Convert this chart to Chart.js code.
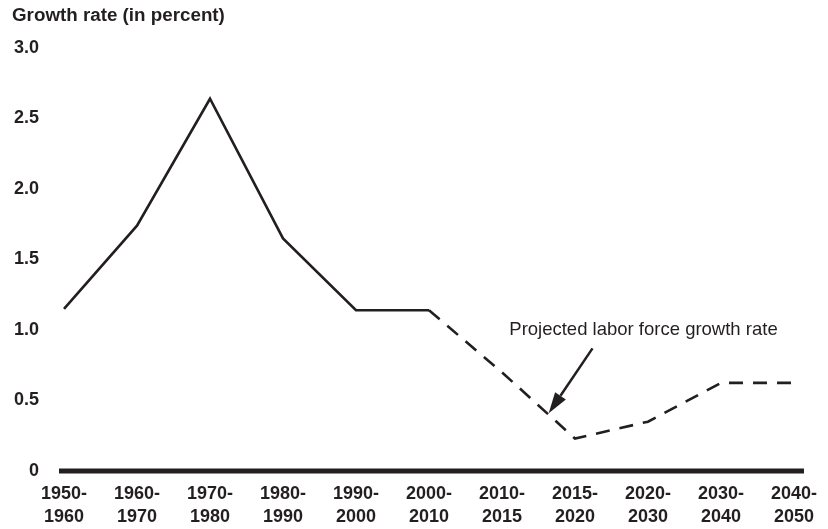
<!DOCTYPE html>
<html>
<head>
<meta charset="utf-8">
<script src="https://cdn.jsdelivr.net/npm/chart.js@4"></script>
<style>
  html, body { margin: 0; padding: 0; background: #fff; }
  #wrap { width: 828px; height: 529px; }
</style>
</head>
<body>
<div id="wrap"><canvas id="laborChart"></canvas></div>
<script>
// periods on the x axis (two-line labels)
const periods = [
  ['1950-', '1960'], ['1960-', '1970'], ['1970-', '1980'], ['1980-', '1990'],
  ['1990-', '2000'], ['2000-', '2010'], ['2010-', '2015'], ['2015-', '2020'],
  ['2020-', '2030'], ['2030-', '2040'], ['2040-', '2050']
];
// growth rate in percent
const growthRate = [1.15, 1.74, 2.64, 1.65, 1.14, 1.14, 0.70, 0.23, 0.35, 0.625, 0.625];
// index from which the series is a projection (dashed)
const projectedFrom = 5;

const yTicks = [0, 0.5, 1.0, 1.5, 2.0, 2.5, 3.0];
const yTitle = 'Growth rate (in percent)';
const noteText = 'Projected labor force growth rate';
// note + arrow anchors in data units (category index, value)
const noteAt = [6.1, 1.0];
const arrowTail = [7.24, 0.87];
const arrowTip = [6.64, 0.41];

const ink = '#231f20';
const fontFam = '"Liberation Sans", Arial, Helvetica, sans-serif';

// title, thick zero line, note and arrow
const extras = {
  id: 'extras',
  beforeDatasetsDraw(chart) {
    const { ctx, chartArea, scales } = chart;
    const y0 = scales.y.getPixelForValue(0);
    ctx.save();
    ctx.strokeStyle = ink;
    ctx.lineWidth = 5;
    ctx.beginPath();
    ctx.moveTo(chartArea.left - 5, y0);
    ctx.lineTo(chartArea.right + 10, y0);
    ctx.stroke();
    ctx.restore();
  },
  afterDraw(chart) {
    const { ctx, scales } = chart;
    const x = scales.x, y = scales.y;
    ctx.save();
    ctx.fillStyle = ink;
    ctx.textBaseline = 'middle';
    ctx.textAlign = 'left';
    ctx.font = 'bold 18.8px ' + fontFam;
    ctx.fillText(yTitle, 12, 16);

    ctx.font = '18.5px ' + fontFam;
    ctx.fillText(noteText, x.getPixelForValue(noteAt[0]), y.getPixelForValue(noteAt[1]));

    // arrow
    const tx = x.getPixelForValue(arrowTail[0]), ty = y.getPixelForValue(arrowTail[1]);
    const hx = x.getPixelForValue(arrowTip[0]), hy = y.getPixelForValue(arrowTip[1]);
    const ang = Math.atan2(hy - ty, hx - tx);
    const headLen = 21, headW = 6.5;
    const bx = hx - headLen * Math.cos(ang), by = hy - headLen * Math.sin(ang);
    ctx.strokeStyle = ink;
    ctx.lineWidth = 2.5;
    ctx.beginPath();
    ctx.moveTo(tx, ty);
    ctx.lineTo(bx, by);
    ctx.stroke();
    ctx.beginPath();
    ctx.moveTo(hx, hy);
    ctx.lineTo(bx + headW * Math.sin(ang), by - headW * Math.cos(ang));
    ctx.lineTo(bx - headW * Math.sin(ang), by + headW * Math.cos(ang));
    ctx.closePath();
    ctx.fill();
    ctx.restore();
  }
};

new Chart(document.getElementById('laborChart'), {
  type: 'line',
  data: {
    labels: periods,
    datasets: [{
      data: growthRate,
      borderColor: ink,
      borderWidth: 2.6,
      pointRadius: 0,
      tension: 0,
      fill: false,
      segment: {
        borderDash: c => c.p0DataIndex >= projectedFrom ? [14, 10] : undefined
      }
    }]
  },
  options: {
    responsive: true,
    maintainAspectRatio: false,
    animation: false,
    layout: { padding: { top: 48, right: 28, left: 0, bottom: 0 } },
    plugins: {
      legend: { display: false },
      tooltip: { enabled: false }
    },
    scales: {
      x: {
        offset: false,
        grid: { display: false, drawTicks: false },
        border: { display: false },
        afterFit: s => { s.height = 58; },
        ticks: {
          color: ink,
          padding: 11,
          maxRotation: 0,
          autoSkip: false,
          font: { family: fontFam, size: 18, weight: 'bold', lineHeight: 1.3 }
        }
      },
      y: {
        min: 0,
        max: 3,
        grid: { display: false, drawTicks: false },
        border: { display: false },
        afterFit: s => { s.width = 64; },
        afterBuildTicks: s => { s.ticks = yTicks.map(v => ({ value: v })); },
        ticks: {
          color: ink,
          padding: 25,
          font: { family: fontFam, size: 18, weight: 'bold' },
          callback: v => v === 0 ? '0' : v.toFixed(1)
        }
      }
    }
  },
  plugins: [extras]
});
</script>
</body>
</html>
